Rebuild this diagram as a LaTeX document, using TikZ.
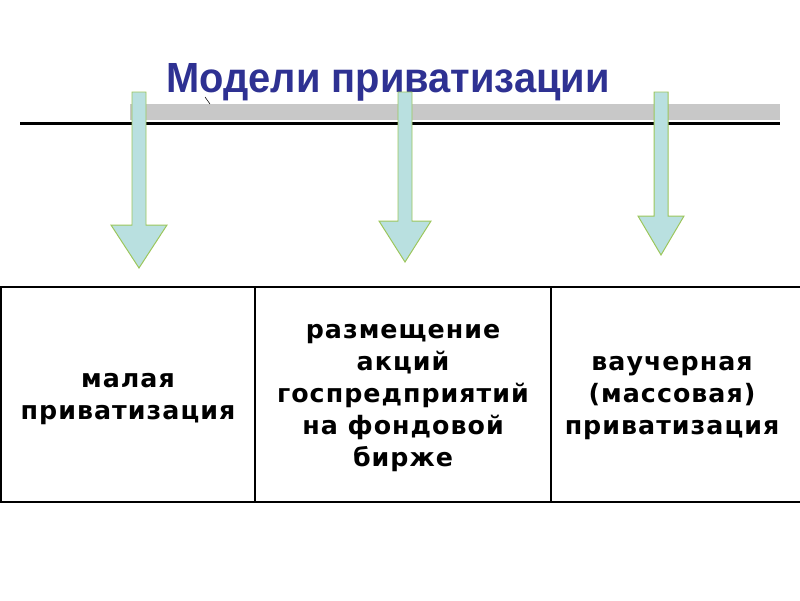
\documentclass[tikz,border=0pt]{standalone}
\usepackage{fontspec}
\setmainfont{DejaVu Sans}
\newfontfamily\titlefont{Liberation Sans}
\newfontfamily\cellfont[LetterSpace=4]{DejaVu Sans}
\usetikzlibrary{positioning}
\definecolor{titleblue}{HTML}{2E3192}
\definecolor{arrowfill}{HTML}{B9E0E0}
\definecolor{arrowedge}{HTML}{9CC65B}
\definecolor{barsilver}{HTML}{C8C8C8}
\tikzset{
  celltext/.style={align=center, inner sep=0pt, font=\cellfont\fontsize{18}{22.8}\selectfont\bfseries},
  blockarrow/.style={fill=arrowfill, draw=arrowedge, line width=0.7pt, line join=miter},
  gridline/.style={black, line width=1pt},
}

\begin{document}
\begin{tikzpicture}[x=0.025cm, y=-0.025cm]
  \useasboundingbox (0,0) rectangle (800,600);
  % heading
  \node[anchor=base, inner sep=0pt, text=titleblue, font=\titlefont\fontsize{30}{36}\selectfont\bfseries] (title) at (388,92) {\scalebox{0.945}[1]{Модели приватизации}};
  % time axis
  \fill[barsilver] (130,104) rectangle (780,120);
  \draw[line width=2.8pt] (20,123.5) -- (780,123.5);
  \draw[line width=0.4pt] (205,97) -- (210,104);
  % arrows down to the table
  \foreach \cx/\hy/\hw/\ty in {139/225/28/268, 405/221/26/262, 661/216/23/255}
    \filldraw[blockarrow] (\cx-7,92) -- (\cx+7,92) -- (\cx+7,\hy) -- (\cx+\hw,\hy)
      -- (\cx,\ty) -- (\cx-\hw,\hy) -- (\cx-7,\hy) -- cycle;
  % table
  \draw[gridline, line width=1.4pt] (0,287) -- (800,287);
  \draw[gridline, line width=1.4pt] (0,502) -- (800,502);
  \foreach \gx in {1,255,551}
    \draw[gridline] (\gx,287) -- (\gx,502);
  \node[celltext] (malaya) at (128,399) {малая\\приватизация};
  \node[celltext] (birzha) at (403,398) {размещение\\акций\\госпредприятий\\на фондовой\\бирже};
  \node[celltext] (vaucher) at (672,398) {ваучерная\\(массовая)\\приватизация};
\end{tikzpicture}
\end{document}
